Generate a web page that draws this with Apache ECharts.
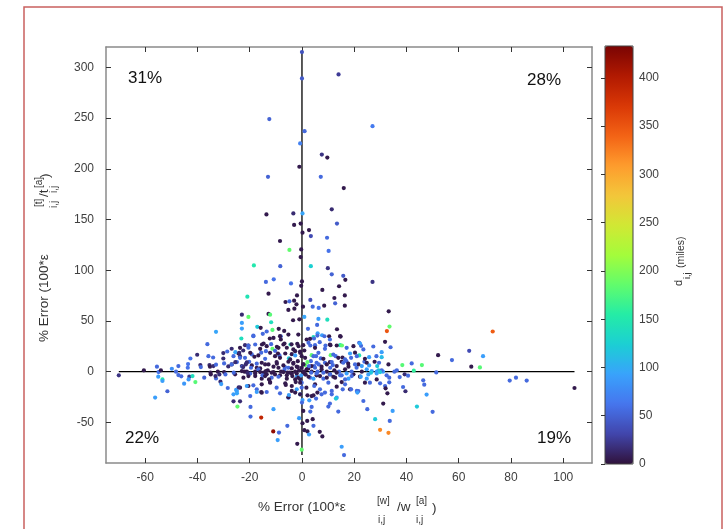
<!DOCTYPE html>
<html>
<head>
<meta charset="utf-8">
<script src="https://cdn.jsdelivr.net/npm/echarts@6/dist/echarts.min.js"></script>
<style>
html,body{margin:0;padding:0;background:#fff;}
#chart{width:725px;height:529px;}
</style>
</head>
<body>
<div id="chart"></div>
<script>
// [w error %, t error %, distance miles]
var spikeUp = [
  [0,315,40],[0,289,45],[14,293,25],[-12.5,249,50],[1,237,55],[-0.7,225,70],[7.6,214,20],[9.7,211,5],
  [-1,202,5],[-13,192,50],[7.2,192,55],[16,181,5],[-13.6,155,5],[-3.3,156,15],[0.2,156,95],[11.4,160,15],
  [-3,144.6,5],[-0.5,146,5],[13.4,146,45],[0.2,137,5],[2.7,139.6,5],[3.4,133.7,35],[9.6,132,55],[-8.4,128.8,5],
  [-4.8,120,185],[-0.3,120.5,5],[10.2,119,60],[-0.5,113,5],[-18.4,104.7,150],[-8.3,104,50],[3.4,104,125],
  [9.9,102,20],[11.4,96,50],[15.8,94.5,45],[16.6,90.5,5],[-13.8,88.5,55],[-10.8,91,60],[-4.2,87,60],
  [0,89,5],[-0.3,84.6,5],[7.8,80.6,5],[14.2,84.2,5],[27,242,65],[27,88.5,20]
];
var upperCore = [
  [-12.8,76.9,5],[-1.9,75.2,5],[16.4,75.2,5],[-6.3,68.7,5],[-4.8,69.3,55],[-3,70,5],[-2.1,66.4,5],[3.2,70.7,35],
  [4.1,64.1,55],[6.4,62.8,60],[8.5,65.1,5],[12.4,72.6,5],[12.7,67.4,50],[16.4,65.1,5],[-5.2,60.9,5],[-2.9,62.1,5],
  [0.4,64.1,5],[-12.8,56.9,5],[-12.2,56.2,180],[-11.8,48.7,140],[-3.4,50.7,5],[-1,51.6,5],[0.9,54,95],[6.3,52,90],
  [9.7,51.3,140],[-17.1,44.2,120],[-15.8,43.2,5],[-13.5,39.6,55],[-11.3,41.2,180],[-8.9,42.2,5],[-6.8,40.2,5],
  [2.3,42.2,55],[5.8,46.1,55],[6,37.9,90],[7.7,35.9,90],[13.4,41.8,5],
  [-18.6,34.9,55],[-15,37.3,55],[-12.3,32.7,5],[-8.1,34.9,55],[-8.1,31.7,5],[-1.4,36.6,5],[1.8,31.7,5],
  [4.4,34,140],[4.6,32.7,55],[8.6,34.9,55],[10.4,34.9,5],[14.8,34.6,5],
  [-15.3,26.8,5],[-11.8,27.1,55],[-9.6,24.5,5],[-6.7,27.8,5],[-5.8,23.6,5],[-4.4,26.8,140],[-4,27,5],
  [-1.8,27.5,5],[0.5,26.1,5],[3.2,25.8,55],[5,26.1,55],[6.8,29.1,55],[9,25.8,55],[10.9,26.1,5],[14.6,26.1,150],
  [15.3,25.8,185],[21.9,28.5,55],[22.6,25.5,55],[27.3,24.8,55],
  [-19.2,17,55],[-18.2,14.7,5],[-15.6,18.7,55],[-13.8,20.2,55],[-11.3,22.6,185],[-10.3,20.6,55],[-8.6,16,55],
  [-9.2,17.9,5],[-5,13.1,120],[-3.9,17.3,5],[-2.6,20.2,5],[-0.7,19.9,5],[0.9,20.9,5],[-0.1,15.3,5],[3.7,16.3,185],
  [5.4,15.3,55],[7.2,13.1,55],[11,16.3,185],[12.9,15.3,55],[15.5,14,5],[17,10.4,55],[18.8,13.7,55],[20.3,18.7,5],
  [21.9,16,145],[25.7,14.3,90],[28.5,15.3,55],[30.5,19.2,90],[30.5,14.3,110],[27.8,9.8,5],
  [-20.2,9.8,55],[-17.3,7.9,55],[-16,3.2,5],[-14.1,7.2,5],[-9.6,7.9,5],[-6.5,4.5,55],[-5.2,9.8,5],[-3.3,7.9,5],
  [-1.6,10.4,5],[0.5,7.2,5],[1.2,6.5,185],[2.4,3.2,5],[3.4,10.4,55],[4.7,5.5,55],[6.4,7.2,55],[8.8,8.8,55],
  [10.7,9.4,5],[11.8,6.5,55],[15.2,9.8,5],[17.7,7.9,5],[21.6,7.2,5],[23.9,9.8,55],[25.7,6.2,90],[28.8,5.5,120],
  [29.5,8.8,55],[33.1,7.2,5],[26.7,0.6,90],[29.3,1.3,120],[31,0,90]
];
var coreFill = [
  [-18.6,35.6,55],[-14.7,27.8,5],[-10.9,33.3,5],[-8.4,35,5],[-5.2,36.6,5],[3.1,32.4,5],[5.9,35.6,55],
  [10.7,31.7,55],[14.6,35,5],[22.2,27.8,90],
  [-23.7,23.5,5],[-20.5,25.8,5],[-17.9,26.8,55],[-16,22.5,5],[-13.5,25.1,5],[-9,23.5,5],[-7.1,26.8,5],
  [-3.3,21.9,5],[-1.3,25.1,5],[2.5,28.4,55],[5,23.5,5],[8.8,22.5,55],[10.7,26.8,5],[13.3,25.8,5],
  [17.1,23.5,55],[19.7,25.1,5],[23.5,21.9,55],
  [-26.2,15.3,55],[-24.3,17.9,5],[-21.8,13.7,55],[-19.8,18.6,5],[-16.7,16,5],[-14.1,12.7,55],[-12.2,18.6,5],
  [-10.3,15.3,5],[-8.4,13.7,5],[-6.4,17.9,5],[-4.5,12.1,5],[-2.6,16,90],[-0.7,18.6,5],[1.2,13.7,5],
  [4.4,15.3,55],[6.3,18.6,55],[8.2,12.7,5],[12,16.9,55],[13.9,13.7,5],[16.5,12.1,55],[18.4,17.9,90],
  [21,15.3,55],[24.1,12.7,5],
  [-26.9,7.2,5],[-24.9,9.5,55],[-23,5.5,5],[-21.1,8.8,55],[-19.2,6.2,5],[-17.3,3.9,5],[-15.4,8.8,5],
  [-12.8,7.2,5],[-10.9,4.9,5],[-9.7,9.5,5],[-7.1,6.2,5],[-5.2,3.9,55],[-3.3,8.8,5],[-2,4.9,5],[0.6,7.2,5],
  [2.1,9.5,185],[3.7,5.5,5],[5.6,8.8,55],[7.5,4.9,5],[9.5,7.2,5],[11.4,9.5,55],[13.3,5.5,5],[15.8,8.8,55],
  [17.8,4.9,5],[20.3,7.2,55],[22.9,5.5,90],[24.8,8.8,5],
  [-25.6,-2.6,5],[-22.4,-5.9,5],[-19.8,-1.9,55],[-17.9,-4.3,5],[-15.4,-6.9,5],[-13.5,-2.6,5],[-11.6,-5.9,55],
  [-8.4,-3.6,5],[-5.8,-6.9,5],[-3.9,-1.9,5],[-2,-4.9,90],[-0.7,-7.5,5],[1.2,-2.6,5],[3.1,-5.9,55],
  [5.6,-3.6,5],[8.2,-6.9,55],[10.7,-2.6,5],[12.7,-5.9,5],[15.2,-3.6,55],[17.8,-6.9,90],[19.7,-2.6,5],
  [22.2,-4.9,5],[24.8,-6.9,90],
  [-24.9,-19.1,90],[-23.7,-15.8,5],[-20.5,-14.1,5],[-17.3,-17.4,55],[-15.4,-12.5,5],[-12.2,-10.2,5],
  [-9.7,-15.8,55],[-6.4,-11.5,5],[-3.9,-14.1,5],[-2,-17.4,90],[-0.1,-10.8,55],[1.7,-15.8,5],[5,-12.5,5],
  [6.9,-17.4,55],[10.1,-10.8,55],[13.3,-14.8,5],[16.5,-12.5,55],[18.4,-17.4,5],[21.6,-19.1,55],
  [-26.2,-22.3,90],[-19.8,-24,55],[-15.4,-20.7,5],[-5.2,-25.6,55],[-0.7,-22.3,90],[3.7,-24,5],
  [7.5,-22.3,55],[13.3,-25.6,90]
];
var axisBand = [
  [-21.1,0,5],[-19.5,3.9,55],[-17.9,0,5],[-16.7,2.3,55],[-14.7,-1,5],[-13.1,1.3,5],[-10.9,-0.4,5],[-9,3.9,5],
  [-8,0,5],[-6.7,2,55],[-5.5,-1,5],[-3.9,3.2,5],[-2.6,0,5],[-1.6,4.5,5],[-1.1,1.3,5],[-0.1,3.9,5],[0.7,0,5],
  [1.8,2.3,5],[2.7,5.5,55],[3.7,0,5],[5,3.9,55],[6,0,55],[7.5,2.3,5],[9.5,0,5],[10.8,3.9,55],[12.4,1.3,5],
  [14.2,0,55],[16.5,2.3,5],[19,0,55],[20.9,3.9,55],[22.9,0,5],[24.8,2.3,90],[26.4,-1,120],[28.6,0,90],[30.5,1.3,55],
  [-17.9,-1.7,5],[-16,-0.4,5],[-15.1,-3.6,55],[-13.8,0.6,5],[-10.3,-2.7,5],[-9,-5,55],[-7.1,-0.4,5],[-5.8,-3.6,5],
  [-4.6,-1,5],[-3.7,-4.3,5],[-2,-1.7,5],[-1.4,-5.9,5],[-0.3,-3.6,90],[0.5,-0.4,5],[1.4,-2.7,5],[2.5,-5,5],
  [3.5,-1,55],[4.4,-6.9,90],[5.6,-1.7,55],[6.9,-4.3,5],[8.2,-1,55],[9.5,-5.9,5],[10.8,-2.7,55],[12,-5,5],
  [13.3,-1,5],[14.6,-3.6,55],[17.1,-1.7,90],[19,-4.3,55],[25.4,-2.7,90],[28.6,-1.7,90],[29.9,-0.4,120],[32.4,-3.6,55]
];
var lowerCore = [
  [-20.5,-4.3,5],[-21.1,-14.1,90],[-18.6,-13.4,55],[-17.3,-20,90],[-15.6,-20,5],[-13.5,-20,55],[-14.1,-4.3,5],
  [-12.6,-7.6,5],[-12.2,-10.8,5],[-11.6,-1,5],[-8.4,-21.3,55],[-6.2,-13.1,5],[-5.2,-25.2,5],[-5,-23,90],
  [-3.9,-19,5],[-2.6,-20.6,5],[-2.4,-10.2,5],[-2.6,-7.6,5],[-0.7,-10.8,5],[-0.1,-15.7,55],[-0.7,-22.3,5],
  [0.2,-27.9,90],[0,-30.4,55],[0.5,-38.7,5],[-1.1,-45.8,90],[0.2,-50.8,5],[0.9,-57.6,5],[2.1,-58.9,5],
  [-1.8,-71.1,5],[-0.1,-76.9,185],[2,-48.5,5],[4.1,-46.8,5],[2.7,-61.9,90],[4.4,-53.4,55],[3.2,-39.3,55],
  [3.7,-34.7,55],[2.8,-28.2,90],[2.1,-23.3,5],[4.4,-23.3,5],[5.4,-26.5,55],[5.9,-20.6,5],[4.7,-14.1,55],
  [6.8,-59.3,5],[7.8,-63.8,5],[8.8,-20.6,55],[10.7,-31.4,55],[10.1,-34.4,55],[11.4,-22.3,55],[11.4,-19,55],
  [13,-26.5,120],[13.9,-39.3,55],[15.6,-17.4,55],[15.2,-74,90],[16.1,-82.2,55],[18.8,-17.4,55],[21,-19,55],
  [21.2,-20.6,90],[23.5,-28.9,55],[25,-37,55],[28,-46.8,120],[29.9,-57.3,320],[31.1,-31.4,5],
  [-15.6,-45.2,390],[-19.7,-34.7,55],[-19.7,-44.2,55],[-10.9,-37,90],[-11,-58.9,420],[-8.8,-60,55],
  [-9.3,-67.4,90],[-5.6,-53.4,55],[22.5,-4.9,90],[24.1,-10.8,5],[26,-10.8,55],[28.6,-7.6,5],[29.9,-11.5,55],
  [31.8,-14.1,55],[16.5,-7.6,55],[15.2,-10.2,5]
];
var leftWing = [
  [-70.1,-3.6,20],[-60.5,1.3,5],[-55.5,4.9,55],[-54.9,-0.4,60],[-55,-4.9,90],[-54,1.3,5],[-53.4,-7.6,150],
  [-53.4,-9.2,90],[-56.2,-25.5,90],[-51.5,-19.3,50],[-49.8,2.9,80],[-48.2,0,55],[-47.3,5.5,55],[-47.3,-3.3,55],
  [-46.2,-4.6,55],[-45.1,-11.8,85],[-43.7,3.9,60],[-43.6,7.5,60],[-42.7,13,60],[-43.1,-4.9,25],[-41.9,-4.3,140],
  [-43.4,-7.6,85],[-40.8,-10.2,180],[-40.1,16.7,15],[-38.9,6.5,15],[-38.7,4.5,55],[-37.4,-5.9,50],[-36.2,27.1,55],
  [-35.8,15.3,55],[-34,14,55],[-35.4,6.5,15],[-35.2,4.9,5],[-35,-1,5],[-34.9,-2.7,5],[-33.9,5.5,15],[-32.9,39.3,95],
  [-32.9,6.9,55],[-32.9,-6.6,55],[-33.1,-4.3,15],[-32.2,0,5],[-31.6,-2.7,15],[-31.2,-9.8,15],[-30.9,-12.2,90],
  [-30.1,18.3,15],[-30.1,13,15],[-29.8,8.1,55],[-29.8,-0.4,5],[-29.3,-2.7,55],[-28.6,19.9,55],[-28.2,5.2,15],
  [-28.4,-16.1,55],[-26.9,22.6,15],[-26.9,7.2,55],[-26.1,-1,55],[-26.2,-29.2,15],[-25.5,19.2,95],[-25.5,9.4,15],
  [-25.2,-18,90],[-24.9,-21.3,95],[-24.7,-34.4,185],[-23.7,-29.2,15],[-24.2,-15.4,15],[-24,18.6,15],[-23.7,15.3,15],
  [-23.7,13.7,55],[-23.2,32.7,140],[-23,42.5,90],[-23,48.1,90],[-23,56.2,15],[-22.5,20.9,15],[-22.8,4.9,55],
  [-23,0.6,5],[-22.5,4.5,15],[-22,0,5],[-21.5,7.2,15],[-21.8,26.1,15],[-21.1,9.1,15],[-20.9,73.9,145],
  [-20.5,54,185],[-20.5,23.6,55],[-20.8,-1.4,15],[-20.5,25.8,55]
];
var rightWing = [
  [33.2,59.5,5],[33.5,44.5,185],[32.5,40,350],[73,39.6,345],[31.8,29.4,5],[33.9,24.1,55],[52.1,16.3,5],
  [57.4,11.4,55],[64,20.6,35],[69.3,15.3,90],[64.8,4.9,5],[68.1,4.2,180],[38.4,6.5,180],[42,8.1,55],[45.9,6.5,180],
  [42.8,1,160],[36.3,1.3,55],[35.4,0,55],[33.4,-5.9,55],[33.4,-10.5,55],[37.4,-5.3,55],[39.3,-2.6,15],
  [40.6,-3.9,55],[32,-16.4,5],[32.7,-21.3,5],[38.7,-15.1,55],[39.6,-19.3,15],[46.4,-8.5,55],[46.8,-12.8,55],
  [47.7,-22.6,90],[51.4,-0.7,55],[44,-34.4,120],[50,-39.6,55],[34.7,-38.7,90],[33.6,-48.5,55],[33.1,-60.3,320],
  [79.5,-8.8,55],[81.9,-5.9,55],[86,-8.8,55],[104.3,-16.1,5]
];
var xTicks = [-60, -40, -20, 0, 20, 40, 60, 80, 100];
var yTicks = [-50, 0, 50, 100, 150, 200, 250, 300];
var dTicks = [0, 50, 100, 150, 200, 250, 300, 350, 400];
var quadrantPct = ['31%', '28%', '22%', '19%'];

var points = [].concat(spikeUp, upperCore, coreFill, axisBand, lowerCore, leftWing, rightWing);
var xs = points.map(function(p){ return p[0]; });
var ys = points.map(function(p){ return p[1]; });
var xLo = Math.min.apply(null, xs), xHi = Math.max.apply(null, xs);
var yLo = Math.min.apply(null, ys), yHi = Math.max.apply(null, ys);

var turbo = ['#30123b','#4145ab','#4675ed','#39a2fc','#1bcfd4','#24eca6','#61fc6c','#a4fc3b',
             '#d1e834','#f3c63a','#fe9b2d','#f36315','#d93806','#b11901','#7a0403'];

var FONT = 'Liberation Sans, Arial, sans-serif';
var labelStyle = {color: '#404040', fontSize: 12, fontFamily: FONT};
var tickStyle = {color: '#333', width: 1};
var frameLine = {color: '#8a8a8a', width: 1.5};

function frameX(pos, showLabel) {
  return {
    type: 'value', gridIndex: 0, position: pos, min: -75, max: 111,
    axisLine: {show: true, onZero: false, lineStyle: frameLine},
    axisTick: {show: true, inside: true, length: 5, customValues: xTicks, lineStyle: tickStyle},
    axisLabel: {show: showLabel, customValues: xTicks, margin: 9, textStyle: labelStyle},
    splitLine: {show: false}
  };
}
function frameY(pos, showLabel) {
  return {
    type: 'value', gridIndex: 0, position: pos, min: -90, max: 320,
    axisLine: {show: true, onZero: false, lineStyle: frameLine},
    axisTick: {show: true, inside: true, length: 5, customValues: yTicks, lineStyle: tickStyle},
    axisLabel: {show: showLabel, customValues: yTicks, margin: 12, textStyle: labelStyle},
    splitLine: {show: false}
  };
}

function txt(x, y, s, size, rot, extra) {
  var o = {
    type: 'text', x: x, y: y, rotation: rot || 0, silent: true,
    style: {text: s, fontSize: size, fontFamily: FONT, fill: '#333', textAlign: 'left', textVerticalAlign: 'middle'}
  };
  if (extra) for (var k in extra) o.style[k] = extra[k];
  return o;
}
var R = Math.PI / 2;

var chart = echarts.init(document.getElementById('chart'));
chart.setOption({
  animation: false,
  grid: [
    {left: 106, right: 133, top: 47, bottom: 66},
    {left: 605, top: 46, width: 28, height: 418, show: true, borderColor: '#444', borderWidth: 1,
     backgroundColor: 'rgba(0,0,0,0)', z: 6}
  ],
  xAxis: [
    frameX('bottom', true),
    frameX('top', false),
    {type: 'value', gridIndex: 1, min: 0, max: 1, show: false}
  ],
  yAxis: [
    frameY('left', true),
    frameY('right', false),
    {type: 'value', gridIndex: 1, position: 'right', min: 0, max: 433, z: 6,
     axisLine: {show: false},
     axisTick: {show: true, inside: true, length: 4, customValues: dTicks, lineStyle: tickStyle},
     axisLabel: {customValues: dTicks, margin: 6, textStyle: labelStyle},
     splitLine: {show: false}}
  ],
  visualMap: {
    type: 'continuous', min: 0, max: 433, dimension: 2, seriesIndex: 0,
    left: 605, top: 46, itemWidth: 28, itemHeight: 418, padding: 0,
    calculable: false, text: null, z: 1, hoverLink: false,
    inRange: {color: turbo}
  },
  series: [
    {type: 'scatter', xAxisIndex: 0, yAxisIndex: 0, data: points, symbolSize: 4.2, z: 3,
     itemStyle: {opacity: 1}},
    {type: 'line', xAxisIndex: 0, yAxisIndex: 0, data: [[xLo, 0], [xHi, 0]], symbol: 'none', silent: true, z: 2,
     lineStyle: {color: '#000', width: 1.3}},
    {type: 'line', xAxisIndex: 0, yAxisIndex: 0, data: [[0, yLo], [0, yHi]], symbol: 'none', silent: true, z: 2,
     lineStyle: {color: '#000', width: 1.3}}
  ],
  graphic: [
    {type: 'rect', silent: true, shape: {x: 24, y: 7, width: 698, height: 540},
     style: {fill: 'none', stroke: '#c9605f', lineWidth: 1.5}},
    txt(128, 78, quadrantPct[0], 17, 0, {fill: '#111'}),
    txt(527, 80, quadrantPct[1], 17, 0, {fill: '#111'}),
    txt(125, 438, quadrantPct[2], 17, 0, {fill: '#111'}),
    txt(537, 438, quadrantPct[3], 17, 0, {fill: '#111'}),
    // x title
    txt(258, 507, '% Error (100*ε', 13.5),
    txt(377, 501, '[w]', 10),
    txt(378, 520, 'i,j', 10),
    txt(397, 507, '/w', 13.5),
    txt(416, 501, '[a]', 10),
    txt(416, 520, 'i,j', 10),
    txt(432, 508, ')', 13.5),
    // y title
    txt(44, 342, '% Error (100*ε', 13.5, R),
    txt(39, 207, '[t]', 10, R),
    txt(54, 208, 'i,j', 10, R),
    txt(44, 197, '/t', 13.5, R),
    txt(39, 188, '[a]', 10, R),
    txt(54, 193, 'i,j', 10, R),
    txt(45, 178, ')', 13.5, R),
    // colorbar title
    txt(679, 286, 'd', 11, R),
    txt(688, 279, 'i,j', 9, R),
    txt(681, 268, '(miles)', 10.5, R)
  ]
});
</script>
</body>
</html>
